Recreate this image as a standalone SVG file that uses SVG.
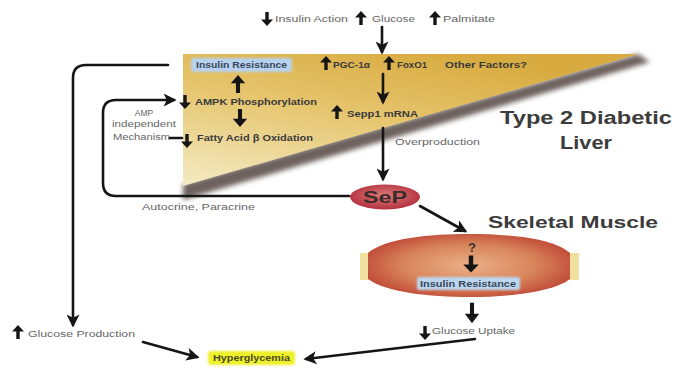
<svg xmlns="http://www.w3.org/2000/svg" xmlns:xlink="http://www.w3.org/1999/xlink" width="684" height="370" viewBox="0 0 684 370">
<style>
.t{font-family:"Liberation Sans",Arial,sans-serif;font-size:8.5px;fill:#666}
.b{font-family:"Liberation Sans",Arial,sans-serif;font-size:8.5px;font-weight:bold;fill:#3a3a3a}
.big{font-family:"Liberation Sans",Arial,sans-serif;font-weight:bold;fill:#3c3c3c}
.c{fill:none;stroke:#151515;stroke-width:2.6;stroke-linecap:round;stroke-linejoin:round}
.g{fill:#151515}
</style>
<defs>
<marker id="ah" viewBox="0 0 10 10" refX="8" refY="5" markerWidth="14" markerHeight="13" markerUnits="userSpaceOnUse" orient="auto">
<path d="M0,0 L10,5 L0,10 L2.5,5 Z" fill="#151515"/>
</marker>
<path id="up" d="M0,-7 L6,-0.5 L1.7,-0.5 L1.7,7 L-1.7,7 L-1.7,-0.5 L-6,-0.5 Z"/>
<linearGradient id="liv" x1="0.6" y1="0" x2="0" y2="1">
<stop offset="0" stop-color="#d8ab40"/>
<stop offset="0.45" stop-color="#e6c670"/>
<stop offset="1" stop-color="#f4ebc4"/>
</linearGradient>
<linearGradient id="shd" x1="0" y1="0" x2="0.08" y2="1">
<stop offset="0" stop-color="#3a2a28" stop-opacity="0.95"/>
<stop offset="1" stop-color="#8a7a70" stop-opacity="0"/>
</linearGradient>
<radialGradient id="sep" cx="0.5" cy="0.45" r="0.6">
<stop offset="0" stop-color="#dc7a78"/>
<stop offset="1" stop-color="#b02a3a"/>
</radialGradient>
<radialGradient id="mus" cx="0.5" cy="0.5" r="0.55">
<stop offset="0" stop-color="#ebb088"/>
<stop offset="0.6" stop-color="#d8845a"/>
<stop offset="1" stop-color="#c04a38"/>
</radialGradient>
<filter id="bl" x="-20%" y="-50%" width="140%" height="200%"><feGaussianBlur stdDeviation="2.5"/></filter>
<filter id="bs" x="-10%" y="-40%" width="120%" height="180%"><feGaussianBlur stdDeviation="0.9"/></filter>
</defs>

<g id="liver">
<polygon points="183,184 638,54 650,62 183,200" fill="#4a3a34" opacity="0.8" filter="url(#bl)"/>
<polygon points="183,54 638,54 183,186" fill="url(#liv)"/>
</g>

<g id="liver-title">
<text class="big" x="500" y="124" font-size="18" textLength="172" lengthAdjust="spacingAndGlyphs">Type 2 Diabetic</text>
<text class="big" x="560" y="149" font-size="18" textLength="52" lengthAdjust="spacingAndGlyphs">Liver</text>
</g>

<g id="top-inputs">
<use xlink:href="#up" transform="translate(267,19) rotate(180)" class="g"/>
<text class="t" x="275" y="22" textLength="73" lengthAdjust="spacingAndGlyphs">Insulin Action</text>
<use xlink:href="#up" transform="translate(361,18)" class="g"/>
<text class="t" x="372" y="22" textLength="43" lengthAdjust="spacingAndGlyphs">Glucose</text>
<use xlink:href="#up" transform="translate(435,18)" class="g"/>
<text class="t" x="443" y="22" textLength="52" lengthAdjust="spacingAndGlyphs">Palmitate</text>
</g>

<g id="liver-ir">
<rect x="191" y="58" width="101" height="14" rx="3" fill="#b7d2ee" filter="url(#bs)"/>
<text class="b" x="196" y="68" textLength="91" lengthAdjust="spacingAndGlyphs" style="fill:#3a4658">Insulin Resistance</text>
</g>

<g id="pgc">
<use xlink:href="#up" transform="translate(326,63)" class="g"/>
<text class="b" x="333" y="68" textLength="37" lengthAdjust="spacingAndGlyphs">PGC-1α</text>
</g>
<g id="foxo1">
<use xlink:href="#up" transform="translate(389,63)" class="g"/>
<text class="b" x="397" y="68" textLength="30" lengthAdjust="spacingAndGlyphs">FoxO1</text>
</g>
<g id="other">
<text class="b" x="445" y="68" textLength="82" lengthAdjust="spacingAndGlyphs">Other Factors?</text>
</g>

<g id="ampk">
<use xlink:href="#up" transform="translate(185,102) rotate(180)" class="g"/>
<text class="b" x="195" y="105" textLength="122" lengthAdjust="spacingAndGlyphs">AMPK Phosphorylation</text>
</g>
<g id="fao">
<use xlink:href="#up" transform="translate(187,141) rotate(180)" class="g"/>
<text class="b" x="197" y="141" textLength="116" lengthAdjust="spacingAndGlyphs">Fatty Acid β Oxidation</text>
</g>
<g id="sepp1">
<use xlink:href="#up" transform="translate(337,112)" class="g"/>
<text class="b" x="347" y="117" textLength="71" lengthAdjust="spacingAndGlyphs">Sepp1 mRNA</text>
</g>

<g id="amp-label">
<text class="t" x="144" y="116" text-anchor="middle">AMP</text>
<text class="t" x="144" y="127" text-anchor="middle" textLength="64" lengthAdjust="spacingAndGlyphs">independent</text>
<text class="t" x="113" y="140" textLength="57" lengthAdjust="spacingAndGlyphs">Mechanism</text>
</g>

<g id="sep-node">
<ellipse cx="385" cy="197" rx="35" ry="12.5" fill="url(#sep)"/>
<text class="big" x="363" y="203" font-size="16" textLength="44" lengthAdjust="spacingAndGlyphs" style="fill:#3a2a2a">SeP</text>
</g>

<g id="muscle">
<rect x="360" y="253" width="12" height="27" fill="#f0e0a0"/>
<rect x="566" y="253" width="13" height="27" fill="#f0e0a0"/>
<path d="M368,253 C385,238 430,234 469,234 C510,234 553,238 570,253 L570,279 C553,292 510,297 469,297 C430,297 385,292 368,279 Z" fill="url(#mus)"/>
<text class="big" x="472" y="252" font-size="13" text-anchor="middle" style="fill:#333">?</text>
<use xlink:href="#up" transform="translate(471,264) rotate(180) scale(1.3,1.2)" class="g"/>
<rect x="417" y="277" width="103" height="13" rx="2" fill="#bcd6f0" filter="url(#bs)"/>
<text class="b" x="420" y="287" textLength="96" lengthAdjust="spacingAndGlyphs" style="fill:#3a4658">Insulin Resistance</text>
</g>

<g id="muscle-title">
<text class="big" x="488" y="228" font-size="17" textLength="170" lengthAdjust="spacingAndGlyphs">Skeletal Muscle</text>
</g>

<g id="glucose-uptake">
<use xlink:href="#up" transform="translate(425,333) rotate(180)" class="g"/>
<text class="t" x="432" y="334" textLength="83" lengthAdjust="spacingAndGlyphs">Glucose Uptake</text>
</g>

<g id="glucose-production">
<use xlink:href="#up" transform="translate(18,332)" class="g"/>
<text class="t" x="28" y="337" textLength="107" lengthAdjust="spacingAndGlyphs">Glucose Production</text>
</g>

<g id="hyperglycemia">
<rect x="208" y="351" width="87" height="14" rx="3" fill="#eef02c" filter="url(#bs)"/>
<text class="b" x="213" y="361" textLength="77" lengthAdjust="spacingAndGlyphs" style="fill:#4a4a20">Hyperglycemia</text>
</g>

<g id="connectors">
<line class="c" x1="382" y1="27" x2="382" y2="52" marker-end="url(#ah)"/>
<line class="c" x1="383" y1="74" x2="383" y2="102" stroke-width="3.2" marker-end="url(#ah)"/>
<use xlink:href="#up" transform="translate(238,84) scale(1.2,1.3)" class="g"/>
<use xlink:href="#up" transform="translate(240,118) rotate(180) scale(1.2,1.3)" class="g"/>
<line class="c" x1="170" y1="138" x2="182" y2="138" stroke-width="1"/>
<line class="c" x1="383" y1="128" x2="383" y2="179" marker-end="url(#ah)"/>
<text class="t" x="395" y="145" textLength="85" lengthAdjust="spacingAndGlyphs">Overproduction</text>
<path class="c" d="M349,196 L116,196 Q103,196 103,183 L103,113 Q103,100 116,100 L174,100" marker-end="url(#ah)"/>
<text class="t" x="142" y="210" textLength="113" lengthAdjust="spacingAndGlyphs">Autocrine, Paracrine</text>
<path class="c" d="M168,65 L86,65 Q73,65 73,78 L73,325" marker-end="url(#ah)"/>
<line class="c" x1="420" y1="206" x2="465" y2="231" marker-end="url(#ah)"/>
<use xlink:href="#up" transform="translate(472,313) rotate(180) scale(1.2,1.45)" class="g"/>
<line class="c" x1="143" y1="342" x2="197" y2="357" marker-end="url(#ah)"/>
<line class="c" x1="475" y1="339" x2="306" y2="359" marker-end="url(#ah)"/>
</g>
</svg>
